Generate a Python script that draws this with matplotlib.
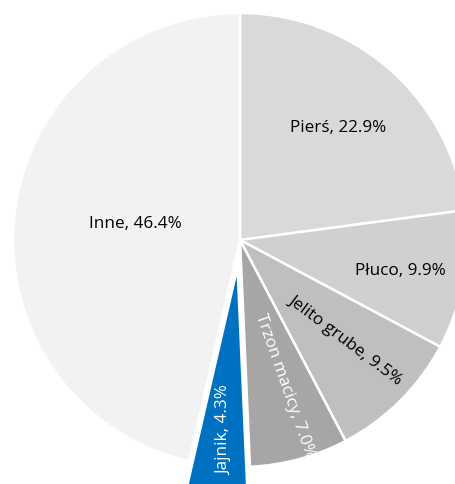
import matplotlib
matplotlib.use("Agg")
from matplotlib import pyplot as plt

# data
labels = ["Pierś", "Płuco", "Jelito grube", "Trzon macicy", "Jajnik", "Inne"]
values = [22.9, 9.9, 9.5, 7.0, 4.3, 46.4]
colors = ["#D9D9D9", "#D0D0D0", "#BFBFBF", "#A6A6A6", "#0070C0", "#F2F2F2"]
explode = [0, 0, 0, 0, 0.12, 0]

plt.rcParams['font.family'] = ['Open Sans', 'DejaVu Sans']

W, H = 455, 484
cx, cy, r = 240, 240, 227

fig = plt.figure(figsize=(W / 100, H / 100), dpi=100)
ax = fig.add_axes([0, 0, 1, 1])

wedges, _ = ax.pie(values, colors=colors, explode=explode, startangle=90,
                   counterclock=False, radius=1,
                   wedgeprops={"edgecolor": "white", "linewidth": 1.8})

# label positions (data units) and rotations
label_pos = [(0.432, 0.493), (0.705, -0.137), (0.463, -0.44),
             (0.198, -0.643), (-0.07, -0.837), (-0.463, 0.070)]
label_rot = [0, 0, -37, -70.6, 90, 0]
label_col = ["black", "black", "black", "white", "white", "black"]

for lab, val, (x, y), rot, c in zip(labels, values, label_pos, label_rot, label_col):
    ax.text(x, y, lab + ", " + str(val) + "%", ha="center", va="center",
            rotation=rot, rotation_mode="anchor", color=c, fontsize=12.3)

ax.set_aspect("auto")
ax.set_xlim(-cx / r, (W - cx) / r)
ax.set_ylim(-(H - cy) / r, cy / r)
ax.axis("off")

plt.savefig("out.png", dpi=100)
